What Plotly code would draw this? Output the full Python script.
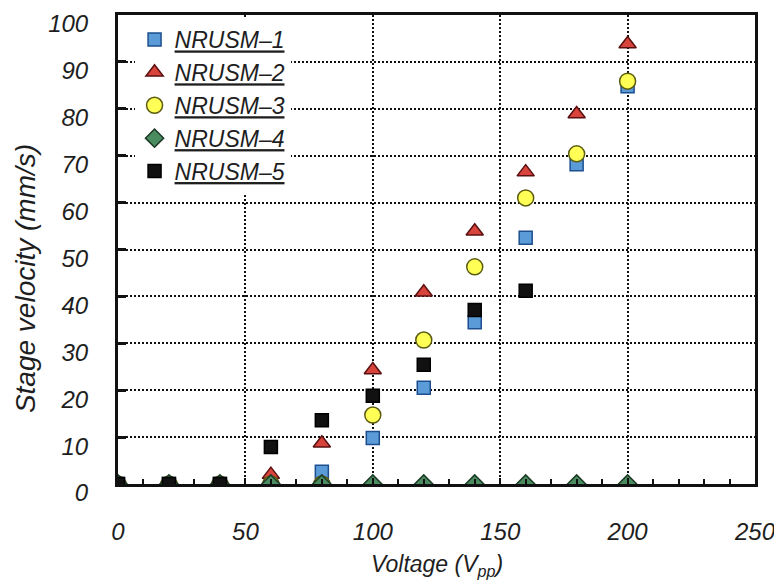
import plotly.graph_objects as go

voltage = [0, 20, 40, 60, 80, 100, 120, 140, 160, 180, 200]

nrusm1 = [0, 0, 0, 0, 2.6, 9.8, 20.5, 34.5, 52.5, 68.2, 84.8]
nrusm2 = [0, 0, 0, 2.0, 8.7, 24.3, 40.9, 53.9, 66.5, 78.9, 93.8]
nrusm3 = [0, 0, 0, 0, 0, 14.7, 30.7, 46.3, 61.0, 70.4, 85.9]
nrusm4 = [0, 0, 0, 0, 0, 0, 0, 0, 0, 0, 0]
nrusm5_x = [0, 20, 40, 60, 80, 100, 120, 140, 160]
nrusm5 = [0, 0, 0, 7.9, 13.6, 18.8, 25.4, 37.1, 41.2]

names = ["NRUSM–1", "NRUSM–2", "NRUSM–3", "NRUSM–4", "NRUSM–5"]
x_title = "Voltage (V<sub>pp</sub>)"
y_title = "Stage velocity (mm/s)"

FONT = "Liberation Sans, Arial, sans-serif"
INK = "#1e1e1e"

fig = go.Figure()
fig.add_trace(go.Scatter(x=voltage, y=nrusm1, mode="markers", name=names[0],
                         marker=dict(symbol="square", size=13, color="#5b9bd8",
                                     line=dict(color="#1d4f8f", width=1.5))))
fig.add_trace(go.Scatter(x=voltage, y=nrusm2, mode="markers", name=names[1],
                         marker=dict(symbol="triangle-up", size=15, color="#d8443c",
                                     line=dict(color="#5a1010", width=1.5))))
fig.add_trace(go.Scatter(x=voltage, y=nrusm3, mode="markers", name=names[2],
                         marker=dict(symbol="circle", size=16, color="#ffff55",
                                     line=dict(color="#5c5c10", width=1.5))))
fig.add_trace(go.Scatter(x=voltage, y=nrusm4, mode="markers", name=names[3],
                         marker=dict(symbol="diamond", size=14, color="#4a8c60",
                                     line=dict(color="#1c3a26", width=1.5))))
fig.add_trace(go.Scatter(x=nrusm5_x, y=nrusm5, mode="markers", name=names[4],
                         marker=dict(symbol="square", size=13, color="#111111",
                                     line=dict(color="#000000", width=1.5))))

fig.update_layout(
    width=774, height=573,
    margin=dict(l=110, r=27, t=7, b=97),
    paper_bgcolor="white", plot_bgcolor="white",
    font=dict(family=FONT, color=INK),
    showlegend=True,
    legend=dict(x=0.026, y=0.9936, xanchor="left", yanchor="top",
                bgcolor="white", borderwidth=0,
                font=dict(family=FONT, size=23, style="italic", color=INK,
                          lineposition="under"),
                tracegroupgap=0, itemwidth=30),
    xaxis=dict(range=[0, 250], dtick=50, tick0=0, automargin=False,
               showgrid=True, gridcolor="#111111", gridwidth=2, griddash="2px,2px",
               showline=True, linecolor="#111111", linewidth=3, mirror=True,
               ticks="inside", ticklen=6, tickwidth=2, tickcolor="#111111",
               minor=dict(dtick=10, ticks="inside", ticklen=5, tickwidth=2,
                          tickcolor="#111111", showgrid=False),
               zeroline=False, ticklabelstandoff=24, ticklabeloverflow="allow",
               tickfont=dict(family=FONT, size=24, style="italic", color=INK)),
    yaxis=dict(range=[0, 100], dtick=10, automargin=False,
               showgrid=True, gridcolor="#111111", gridwidth=2, griddash="2px,2px",
               showline=True, linecolor="#111111", linewidth=3, mirror=True,
               ticks="inside", ticklen=8, tickwidth=3, tickcolor="#111111",
               zeroline=False, ticklabelstandoff=22, ticklabelshift=9,
               ticklabeloverflow="allow",
               tickfont=dict(family=FONT, size=24, style="italic", color=INK)),
    annotations=[
        dict(text=x_title, xref="paper", yref="paper", x=0.5, y=-0.173,
             xanchor="center", yanchor="middle", showarrow=False,
             font=dict(family=FONT, size=23, style="italic", color=INK)),
        dict(text=y_title, xref="paper", yref="paper", x=-0.146, y=0.439,
             xanchor="center", yanchor="middle", showarrow=False, textangle=-90,
             font=dict(family=FONT, size=28, style="italic", color=INK)),
    ],
)

fig.write_html("out.html")
